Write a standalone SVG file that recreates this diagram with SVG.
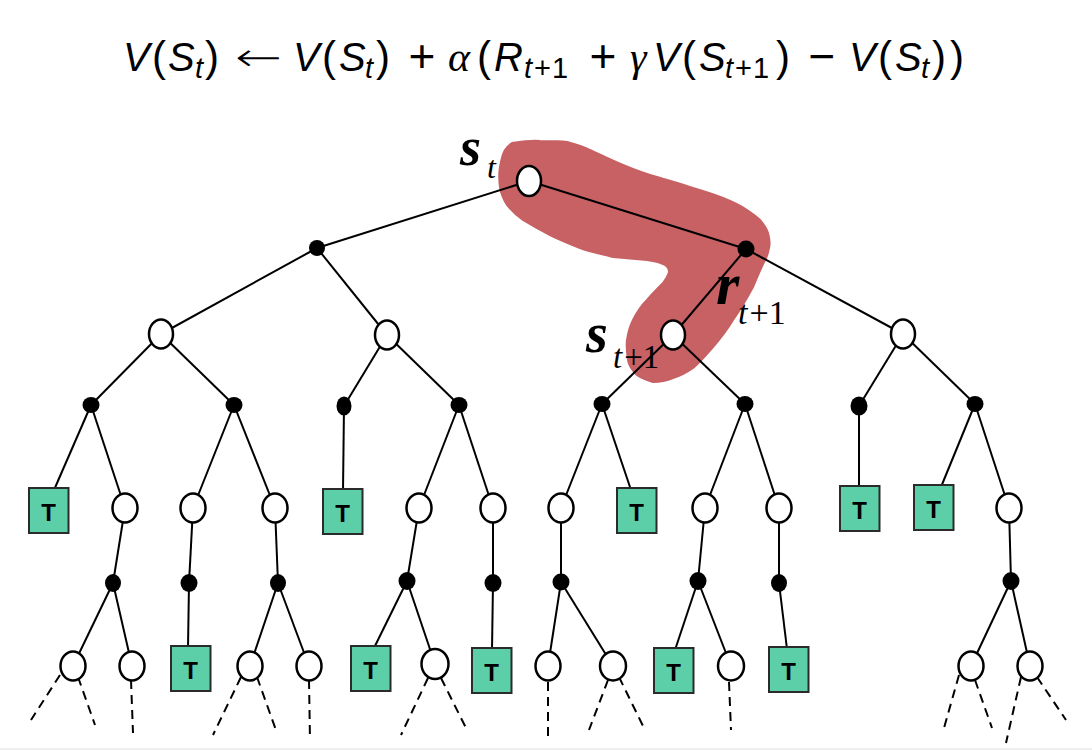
<svg xmlns="http://www.w3.org/2000/svg" width="1092" height="750" viewBox="0 0 1092 750">
<style>
.st{fill:#fff;stroke:#000;stroke-width:2.5}
.ac{fill:#000}
.tb{fill:#5ccfa9;stroke:#2b2b2b;stroke-width:2}
.tl{font-family:"Liberation Sans",Arial,sans-serif;font-weight:bold;font-size:24px;text-anchor:middle;fill:#000}
.e line{stroke:#000;stroke-width:2;fill:none}
.d line{stroke:#000;stroke-width:2;stroke-dasharray:9 6;fill:none}
.m{font-family:"Liberation Sans",Arial,sans-serif;font-style:italic;font-size:40px;fill:#000}
.p{font-family:"Liberation Sans",Arial,sans-serif;font-size:42px;fill:#000}
.ms{font-family:"Liberation Sans",Arial,sans-serif;font-style:italic;font-size:29px;fill:#000}
.msr{font-family:"Liberation Sans",Arial,sans-serif;font-style:normal;font-size:29px;fill:#000}
.mo{font-family:"Liberation Sans",Arial,sans-serif;font-size:46px;fill:#000;text-anchor:middle}
.ar{font-family:"DejaVu Sans",sans-serif;font-weight:200;font-size:40px;fill:#000}
.g{font-family:"Liberation Serif",serif;font-style:italic;font-size:42px;fill:#000}
.lb{font-family:"Liberation Serif","Times New Roman",serif;font-weight:bold;font-style:italic;fill:#000}
.li{font-family:"Liberation Serif","Times New Roman",serif;font-style:italic;fill:#000}
.lr{font-family:"Liberation Serif","Times New Roman",serif;font-style:normal;fill:#000}
</style>
<rect x="0" y="0" width="1092" height="750" fill="#fff"/>
<rect x="0" y="748" width="1092" height="2" fill="#efefef"/>

<g id="formula">
<text class="m" x="123" y="71">V</text>
<text class="p" x="152" y="71">(</text>
<text class="m" x="168" y="71">S</text>
<text class="ms" x="195" y="78">t</text>
<text class="p" x="205" y="71">)</text>
<text class="ar" x="235" y="71" textLength="47" lengthAdjust="spacingAndGlyphs">←</text>
<text class="m" x="293" y="71">V</text>
<text class="p" x="322" y="71">(</text>
<text class="m" x="339" y="71">S</text>
<text class="ms" x="365" y="78">t</text>
<text class="p" x="376" y="71">)</text>
<text class="mo" x="422" y="72">+</text>
<text class="g" x="448" y="71">α</text>
<text class="p" x="477" y="71">(</text>
<text class="m" x="494" y="71">R</text>
<text class="ms" x="524" y="78">t<tspan class="msr" dx="2">+</tspan><tspan class="msr" dx="1">1</tspan></text>
<text class="mo" x="603" y="72">+</text>
<text class="g" x="630" y="71">γ</text>
<text class="m" x="653" y="71">V</text>
<text class="p" x="682" y="71">(</text>
<text class="m" x="699" y="71">S</text>
<text class="ms" x="725" y="78">t<tspan class="msr" dx="2">+</tspan><tspan class="msr" dx="1">1</tspan></text>
<text class="p" x="776" y="71">)</text>
<text class="mo" x="822" y="72">−</text>
<text class="m" x="849" y="71">V</text>
<text class="p" x="878" y="71">(</text>
<text class="m" x="895" y="71">S</text>
<text class="ms" x="921" y="78">t</text>
<text class="p" x="932" y="71">)</text>
<text class="p" x="950" y="71">)</text>
</g>

<g id="highlight">
<path d="M512,143 C525,141 535,140 540,141 C550,141 560,141 567,142 C578,145 585,147 590,150 C603,156 613,161 623,165 C635,170 645,174 657,177 C670,181 682,184 693,188 C703,191 713,194 723,198 C733,202 741,206 747,210 C753,214 757,217 760,220 C765,226 767,230 768,233 C770,240 770,244 769,248 C768,253 767,257 765,260 C760,270 757,278 753,287 C746,300 740,310 733,320 C727,330 720,339 713,347 C706,355 700,362 693,368 C686,373 680,376 673,378 C666,381 660,382 653,382 C646,380 641,378 637,375 C632,370 629,366 628,360 C627,353 626,347 627,340 C628,333 630,326 633,320 C637,312 641,306 647,300 C652,294 658,288 663,283 C666,279 668,276 669,272 C669,269 668,267 665,265 C660,262 654,261 647,260 C636,259 625,258 613,257 C602,254 591,252 580,248 C570,244 560,240 550,235 C540,230 531,225 523,220 C516,215 511,210 507,205 C504,200 501,194 500,187 C499,180 499,173 500,167 C501,161 502,155 505,150 C507,147 509,145 512,143 Z" fill="#c76163" stroke="#c76163" stroke-width="2" stroke-linejoin="round"/>
</g>

<g id="connectors">
<g class="e">
<line x1="529" y1="181" x2="317" y2="248"/>
<line x1="529" y1="181" x2="746" y2="249"/>
<line x1="317" y1="248" x2="161" y2="334"/>
<line x1="317" y1="248" x2="387" y2="335"/>
<line x1="746" y1="249" x2="673" y2="335"/>
<line x1="746" y1="249" x2="903" y2="334"/>
<line x1="161" y1="334" x2="91" y2="405"/>
<line x1="161" y1="334" x2="234" y2="405"/>
<line x1="387" y1="335" x2="344" y2="406"/>
<line x1="387" y1="335" x2="459" y2="405"/>
<line x1="673" y1="335" x2="602" y2="404"/>
<line x1="673" y1="335" x2="745" y2="404"/>
<line x1="903" y1="334" x2="859" y2="406"/>
<line x1="903" y1="334" x2="975" y2="404"/>
<line x1="91" y1="405" x2="54" y2="490"/>
<line x1="91" y1="405" x2="125" y2="508"/>
<line x1="234" y1="405" x2="193" y2="508"/>
<line x1="234" y1="405" x2="275" y2="508"/>
<line x1="344" y1="406" x2="343" y2="491"/>
<line x1="459" y1="405" x2="419" y2="508"/>
<line x1="459" y1="405" x2="493" y2="508"/>
<line x1="602" y1="404" x2="561" y2="508"/>
<line x1="602" y1="404" x2="631" y2="490"/>
<line x1="745" y1="404" x2="705" y2="508"/>
<line x1="745" y1="404" x2="779" y2="508"/>
<line x1="859" y1="406" x2="859" y2="488"/>
<line x1="975" y1="404" x2="941" y2="487"/>
<line x1="975" y1="404" x2="1009" y2="508"/>
<line x1="125" y1="508" x2="113" y2="583"/>
<line x1="193" y1="508" x2="189" y2="583"/>
<line x1="275" y1="508" x2="278" y2="583"/>
<line x1="419" y1="508" x2="407" y2="581"/>
<line x1="493" y1="508" x2="493" y2="583"/>
<line x1="561" y1="508" x2="561" y2="582"/>
<line x1="705" y1="508" x2="698" y2="581"/>
<line x1="779" y1="508" x2="779" y2="583"/>
<line x1="1009" y1="508" x2="1011" y2="581"/>
<line x1="113" y1="583" x2="73" y2="666"/>
<line x1="113" y1="583" x2="132" y2="666"/>
<line x1="189" y1="583" x2="188" y2="648"/>
<line x1="278" y1="583" x2="250" y2="666"/>
<line x1="278" y1="583" x2="309" y2="666"/>
<line x1="407" y1="581" x2="374" y2="648"/>
<line x1="407" y1="581" x2="435" y2="664"/>
<line x1="493" y1="583" x2="492" y2="650"/>
<line x1="561" y1="582" x2="548" y2="666"/>
<line x1="561" y1="582" x2="613" y2="666"/>
<line x1="698" y1="581" x2="675" y2="650"/>
<line x1="698" y1="581" x2="731" y2="666"/>
<line x1="779" y1="583" x2="787" y2="649"/>
<line x1="1011" y1="581" x2="971" y2="666"/>
<line x1="1011" y1="581" x2="1030" y2="666"/>
</g>
<g class="d">
<line x1="60" y1="675" x2="31" y2="720"/>
<line x1="78" y1="677" x2="95" y2="725"/>
<line x1="131" y1="680" x2="133" y2="733"/>
<line x1="241" y1="677" x2="213" y2="735"/>
<line x1="257" y1="677" x2="277" y2="733"/>
<line x1="309" y1="680" x2="310" y2="740"/>
<line x1="428" y1="678" x2="401" y2="735"/>
<line x1="441" y1="678" x2="467" y2="730"/>
<line x1="548" y1="682" x2="548" y2="740"/>
<line x1="608" y1="680" x2="589" y2="730"/>
<line x1="619" y1="677" x2="644" y2="728"/>
<line x1="729" y1="682" x2="731" y2="730"/>
<line x1="959" y1="675" x2="944" y2="728"/>
<line x1="975" y1="680" x2="992" y2="728"/>
<line x1="1021" y1="677" x2="1006" y2="743"/>
<line x1="1037" y1="677" x2="1066" y2="720"/>
</g>
</g>

<g id="s0"><ellipse class="st" cx="529" cy="181" rx="12" ry="15"/></g>
<g id="a1"><ellipse class="ac" cx="317" cy="248" rx="8" ry="8"/></g>
<g id="a2"><ellipse class="ac" cx="746" cy="249" rx="8.5" ry="8.5"/></g>
<g id="s1"><ellipse class="st" cx="161" cy="334" rx="12" ry="14.5"/></g>
<g id="s2"><ellipse class="st" cx="387" cy="335" rx="12" ry="14.5"/></g>
<g id="s3"><ellipse class="st" cx="673" cy="335" rx="12" ry="14.5"/></g>
<g id="s4"><ellipse class="st" cx="903" cy="334" rx="12" ry="14.5"/></g>
<g id="a3"><ellipse class="ac" cx="91" cy="405" rx="8.5" ry="8"/></g>
<g id="a4"><ellipse class="ac" cx="234" cy="405" rx="8.5" ry="8"/></g>
<g id="a5"><ellipse class="ac" cx="344" cy="406" rx="7.5" ry="9.5"/></g>
<g id="a6"><ellipse class="ac" cx="459" cy="405" rx="8.5" ry="8"/></g>
<g id="a7"><ellipse class="ac" cx="602" cy="404" rx="8.5" ry="8"/></g>
<g id="a8"><ellipse class="ac" cx="745" cy="404" rx="8.5" ry="8"/></g>
<g id="a9"><ellipse class="ac" cx="859" cy="406" rx="8.5" ry="9.5"/></g>
<g id="a10"><ellipse class="ac" cx="975" cy="404" rx="8.5" ry="8"/></g>
<g id="t1"><rect class="tb" x="29" y="488" width="39.5" height="45"/><text class="tl" x="48.5" y="520.5">T</text></g>
<g id="s5"><ellipse class="st" cx="125" cy="508" rx="12.5" ry="14.5"/></g>
<g id="s6"><ellipse class="st" cx="193" cy="508" rx="12.5" ry="14.5"/></g>
<g id="s7"><ellipse class="st" cx="275" cy="508" rx="12.5" ry="14.5"/></g>
<g id="t2"><rect class="tb" x="323" y="489" width="39.5" height="45"/><text class="tl" x="342.5" y="521.5">T</text></g>
<g id="s8"><ellipse class="st" cx="419" cy="508" rx="12.5" ry="14.5"/></g>
<g id="s9"><ellipse class="st" cx="493" cy="508" rx="12.5" ry="14.5"/></g>
<g id="s10"><ellipse class="st" cx="561" cy="508" rx="12.5" ry="14.5"/></g>
<g id="t3"><rect class="tb" x="617" y="488" width="39.5" height="45"/><text class="tl" x="636.5" y="520.5">T</text></g>
<g id="s11"><ellipse class="st" cx="705" cy="508" rx="12.5" ry="14.5"/></g>
<g id="s12"><ellipse class="st" cx="779" cy="508" rx="12.5" ry="14.5"/></g>
<g id="t4"><rect class="tb" x="840" y="486" width="39.5" height="45"/><text class="tl" x="859.5" y="518.5">T</text></g>
<g id="t5"><rect class="tb" x="914" y="485" width="39.5" height="45"/><text class="tl" x="933.5" y="517.5">T</text></g>
<g id="s13"><ellipse class="st" cx="1009" cy="508" rx="12.5" ry="14.5"/></g>
<g id="a11"><ellipse class="ac" cx="113" cy="583" rx="8" ry="9"/></g>
<g id="a12"><ellipse class="ac" cx="189" cy="583" rx="8.5" ry="9"/></g>
<g id="a13"><ellipse class="ac" cx="278" cy="583" rx="8" ry="9"/></g>
<g id="a14"><ellipse class="ac" cx="407" cy="581" rx="8.5" ry="9"/></g>
<g id="a15"><ellipse class="ac" cx="493" cy="583" rx="8.5" ry="9"/></g>
<g id="a16"><ellipse class="ac" cx="561" cy="582" rx="8.5" ry="8.5"/></g>
<g id="a17"><ellipse class="ac" cx="698" cy="581" rx="8.5" ry="9"/></g>
<g id="a18"><ellipse class="ac" cx="779" cy="583" rx="8" ry="9"/></g>
<g id="a19"><ellipse class="ac" cx="1011" cy="581" rx="8.5" ry="9"/></g>
<g id="s14"><ellipse class="st" cx="73" cy="666" rx="12.5" ry="14.5"/></g>
<g id="s15"><ellipse class="st" cx="132" cy="666" rx="12.5" ry="14.5"/></g>
<g id="t6"><rect class="tb" x="171" y="646" width="39.5" height="45"/><text class="tl" x="190.5" y="678.5">T</text></g>
<g id="s16"><ellipse class="st" cx="250" cy="666" rx="12.5" ry="14.5"/></g>
<g id="s17"><ellipse class="st" cx="309" cy="666" rx="12.5" ry="14.5"/></g>
<g id="t7"><rect class="tb" x="351" y="646" width="39.5" height="45"/><text class="tl" x="370.5" y="678.5">T</text></g>
<g id="s18"><ellipse class="st" cx="435" cy="664" rx="13.5" ry="15"/></g>
<g id="t8"><rect class="tb" x="472" y="648" width="39.5" height="45"/><text class="tl" x="491.5" y="680.5">T</text></g>
<g id="s19"><ellipse class="st" cx="548" cy="666" rx="12.5" ry="14.5"/></g>
<g id="s20"><ellipse class="st" cx="613" cy="666" rx="13" ry="14.5"/></g>
<g id="t9"><rect class="tb" x="654" y="648" width="39.5" height="45"/><text class="tl" x="673.5" y="680.5">T</text></g>
<g id="s21"><ellipse class="st" cx="731" cy="666" rx="13" ry="14.5"/></g>
<g id="t10"><rect class="tb" x="769" y="647" width="39.5" height="45"/><text class="tl" x="788.5" y="679.5">T</text></g>
<g id="s22"><ellipse class="st" cx="971" cy="666" rx="12.5" ry="14.5"/></g>
<g id="s23"><ellipse class="st" cx="1030" cy="666" rx="12.5" ry="14.5"/></g>

<g id="labels">
<text class="lb" x="460" y="165" font-size="54">s</text>
<text class="li" x="487" y="178" font-size="32">t</text>
<text class="lb" x="716" y="304" font-size="60">r</text>
<text class="li" x="738" y="324" font-size="34">t<tspan class="lr" dx="2">+1</tspan></text>
<text class="lb" x="586" y="352" font-size="56">s</text>
<text class="li" x="613" y="368" font-size="33">t<tspan class="lr" dx="2">+1</tspan></text>
</g>
</svg>
